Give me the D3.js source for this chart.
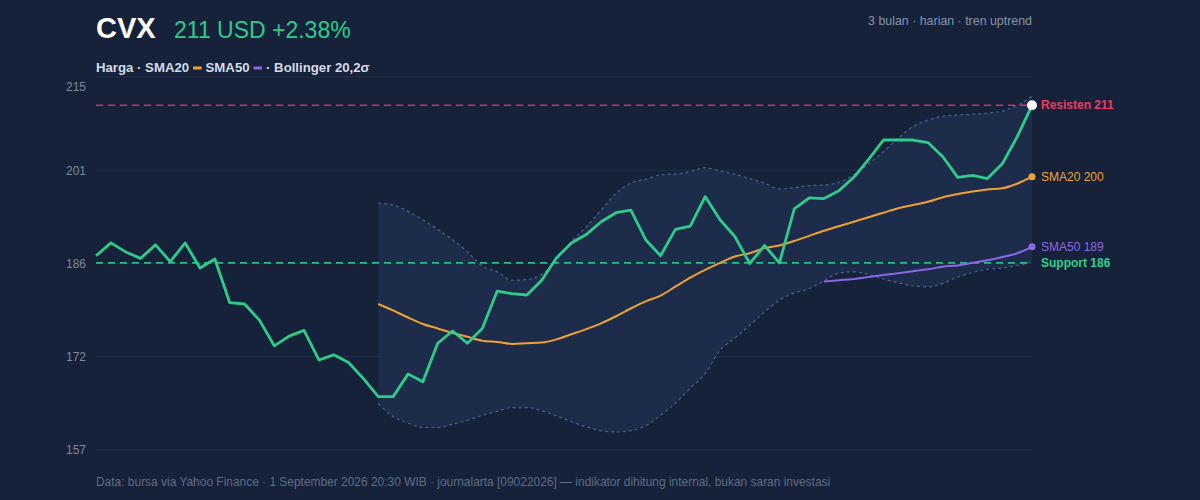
<!DOCTYPE html>
<html>
<head>
<meta charset="utf-8">
<script src="https://cdn.jsdelivr.net/npm/d3@7"></script>
<style>
  html, body { margin: 0; padding: 0; background: #15223a; }
  svg { display: block; font-family: "Liberation Sans", Arial, sans-serif; }
</style>
</head>
<body>
<svg id="chart" width="1200" height="500"></svg>
<script>
// ---- data ----
const days = d3.range(64);
const price = [187.2,189.2,187.8,186.8,188.9,186.3,189.2,185.3,186.7,179.9,
  179.7,177.2,173.2,174.7,175.6,171.0,171.8,170.6,168.1,165.3,
  165.3,168.8,167.6,173.6,175.5,173.6,175.9,181.7,181.3,181.1,
  183.4,186.9,189.2,190.5,192.5,193.9,194.3,189.7,187.2,191.3,
  191.8,196.4,192.8,190.2,186.0,188.8,186.1,194.5,196.2,196.1,
  197.3,199.4,202.2,205.2,205.2,205.2,204.8,202.6,199.4,199.7,
  199.2,201.5,205.7,210.6];
const sma20Start = 19;
const sma20 = [179.7,178.7,177.6,176.6,175.9,175.2,174.6,174.0,173.8,173.5,173.6,
  173.7,174.2,175.0,175.8,176.7,177.8,179.0,180.1,181.0,182.4,183.8,185.0,
  186.1,187.1,187.6,188.4,188.8,189.5,190.3,191.1,191.8,192.5,193.2,193.9,194.6,195.1,195.6,196.3,196.8,197.2,197.5,197.7,198.4,199.5];
const sma50Start = 49;
const sma50 = [183.2,183.4,183.6,183.9,184.2,184.5,184.8,185.1,185.5,185.7,186.1,186.5,187.0,187.6,188.6];
const bandStart = 19;
const bandUpper = [195.4,195.1,194.1,192.8,191.3,189.7,187.8,185.6,184.7,183.4,183.5,184.3,186.5,189.4,191.7,194.3,196.9,198.5,
  199.1,199.8,199.9,200.3,200.9,200.4,199.9,199.2,198.5,197.6,197.8,
  198.1,198.2,198.6,199.8,201.5,203.4,205.5,207.3,208.3,208.9,209.1,209.2,209.4,209.7,210.6,212.0];
const bandLower = [164.2,162.2,161.2,160.5,160.5,161.0,161.6,162.4,163.0,163.6,163.6,163.1,162.3,161.4,160.6,160.0,159.8,160.0,160.8,162.4,164.3,166.6,168.9,
  172.5,174.4,176.4,178.5,180.3,
  181.4,182.1,183.3,184.5,184.7,184.3,183.6,183.0,182.5,182.4,182.9,183.9,184.6,185.1,185.3,185.7,186.3];
const yTicks = [157, 171.5, 186, 200.5, 215];
const yTickLabels = ["157", "172", "186", "201", "215"];
const resistance = 210.6;
const support = 186.1;
const ticker = "CVX";
const headline = "211 USD +2.38%";
const subtitle = "3 bulan · harian · tren uptrend";
const footer = "Data: bursa via Yahoo Finance · 1 September 2026 20:30 WIB · journalarta [09022026] — indikator dihitung internal, bukan saran investasi";

// ---- layout ----
const svg = d3.select("#chart");
const x = d3.scaleLinear().domain([0, days.length - 1]).range([96, 1032]);
const y = d3.scaleLinear().domain([157, 215]).range([450, 77]);

const C = {
  bg: "#15223a", grid: "#202f4b", band: "#1d2c4a", bandLine: "#4a6190",
  price: "#2ecb8c", sma20: "#eea236", sma50: "#8b67e6",
  res: "#c23a5c", resText: "#ee3b5f", sup: "#2bb986", supText: "#31cf8f",
  axis: "#7c89a2", footer: "#5e6c86", legend: "#d3dbe8", sub: "#8593ab"
};

svg.append("rect").attr("width", 1200).attr("height", 500).attr("fill", C.bg);

// Bollinger band fill
const bandData = bandUpper.map((u, i) => ({ i: bandStart + i, u, l: bandLower[i] }));
svg.append("path").datum(bandData)
  .attr("fill", C.band)
  .attr("d", d3.area().x(d => x(d.i)).y0(d => y(d.l)).y1(d => y(d.u)).curve(d3.curveMonotoneX));

// gridlines
const g = svg.append("g");
g.selectAll("line.grid").data(yTicks).join("line")
  .attr("x1", x(0)).attr("x2", x(days.length - 1))
  .attr("y1", d => y(d)).attr("y2", d => y(d))
  .attr("stroke", C.grid).attr("stroke-width", 1);

// y labels
const yAxis = d3.axisLeft(y).tickValues(yTicks).tickSize(0).tickPadding(10)
  .tickFormat((d, i) => yTickLabels[i]);
const ya = svg.append("g").attr("transform", `translate(${x(0)},0)`).call(yAxis);
ya.select(".domain").remove();
ya.selectAll("text").attr("fill", C.axis).attr("font-size", 12)
  .attr("font-family", "Liberation Sans, Arial, sans-serif")
  .attr("dy", (d, i) => i === yTicks.length - 1 ? "1.15em" : "0.32em");

// band lines
[bandUpper, bandLower].forEach(arr => {
  svg.append("path").datum(arr)
    .attr("fill", "none").attr("stroke", C.bandLine).attr("stroke-width", 1.2)
    .attr("stroke-dasharray", "3,3")
    .attr("d", d3.line().x((d, i) => x(bandStart + i)).y(d => y(d)).curve(d3.curveMonotoneX));
});

// resistance / support
[[resistance, C.res], [support, C.sup]].forEach(([v, c]) => {
  svg.append("line").attr("x1", x(0)).attr("x2", x(days.length - 1))
    .attr("y1", y(v)).attr("y2", y(v))
    .attr("stroke", c).attr("stroke-width", 1.6).attr("stroke-dasharray", "7,5");
});

// SMA lines
svg.append("path").datum(sma20)
  .attr("fill", "none").attr("stroke", C.sma20).attr("stroke-width", 2)
  .attr("d", d3.line().x((d, i) => x(sma20Start + i)).y(d => y(d)).curve(d3.curveMonotoneX));
svg.append("path").datum(sma50)
  .attr("fill", "none").attr("stroke", C.sma50).attr("stroke-width", 2)
  .attr("d", d3.line().x((d, i) => x(sma50Start + i)).y(d => y(d)).curve(d3.curveMonotoneX));

// price line
svg.append("path").datum(price)
  .attr("fill", "none").attr("stroke", C.price).attr("stroke-width", 2.8)
  .attr("stroke-linejoin", "round")
  .attr("d", d3.line().x((d, i) => x(i)).y(d => y(d)));

// end dots
const last = days.length - 1;
svg.append("circle").attr("cx", x(last)).attr("cy", y(sma20[sma20.length - 1])).attr("r", 3.5).attr("fill", C.sma20);
svg.append("circle").attr("cx", x(last)).attr("cy", y(sma50[sma50.length - 1])).attr("r", 3.5).attr("fill", C.sma50);
svg.append("circle").attr("cx", x(last)).attr("cy", y(price[last])).attr("r", 5).attr("fill", "#ffffff");

// right labels
const lx = x(last) + 9;
const rl = [
  { t: "Resisten " + Math.round(resistance), v: resistance, c: C.resText, w: "bold" },
  { t: "SMA20 " + Math.round(sma20[sma20.length - 1]), v: sma20[sma20.length - 1], c: C.sma20, w: "normal" },
  { t: "SMA50 " + Math.round(sma50[sma50.length - 1]), v: sma50[sma50.length - 1], c: C.sma50, w: "normal" },
  { t: "Support " + Math.round(support), v: support, c: C.supText, w: "bold" }
];
svg.selectAll("text.rl").data(rl).join("text").attr("class", "rl")
  .attr("x", lx).attr("y", d => y(d.v)).attr("dy", "0.35em")
  .attr("font-size", 12).attr("font-weight", d => d.w).attr("fill", d => d.c)
  .text(d => d.t);

// title
svg.append("text").attr("x", 96).attr("y", 38).attr("font-size", 29).attr("font-weight", "bold")
  .attr("fill", "#ffffff").text(ticker);
svg.append("text").attr("x", 174).attr("y", 38).attr("font-size", 23)
  .attr("fill", C.price).text(headline);
svg.append("text").attr("x", 1032).attr("y", 25).attr("text-anchor", "end").attr("font-size", 12.4)
  .attr("fill", C.sub).text(subtitle);

// legend
const leg = svg.append("g");
let cx = 96;
const ly = 72;
function legText(t) {
  const el = leg.append("text").attr("x", cx).attr("y", ly).attr("font-size", 13.2)
    .attr("font-weight", "bold").attr("fill", C.legend).text(t);
  cx += el.node().getComputedTextLength();
}
function legSwatch(c) {
  cx += 4;
  leg.append("rect").attr("x", cx).attr("y", ly - 5.5).attr("width", 8.5).attr("height", 3).attr("fill", c);
  cx += 8.5 + 4;
}
legText("Harga · SMA20");
legSwatch(C.sma20);
legText("SMA50");
legSwatch(C.sma50);
legText("· Bollinger 20,2σ");

// footer
svg.append("text").attr("x", 96).attr("y", 486).attr("font-size", 11.95)
  .attr("fill", C.footer).text(footer);
</script>
</body>
</html>
